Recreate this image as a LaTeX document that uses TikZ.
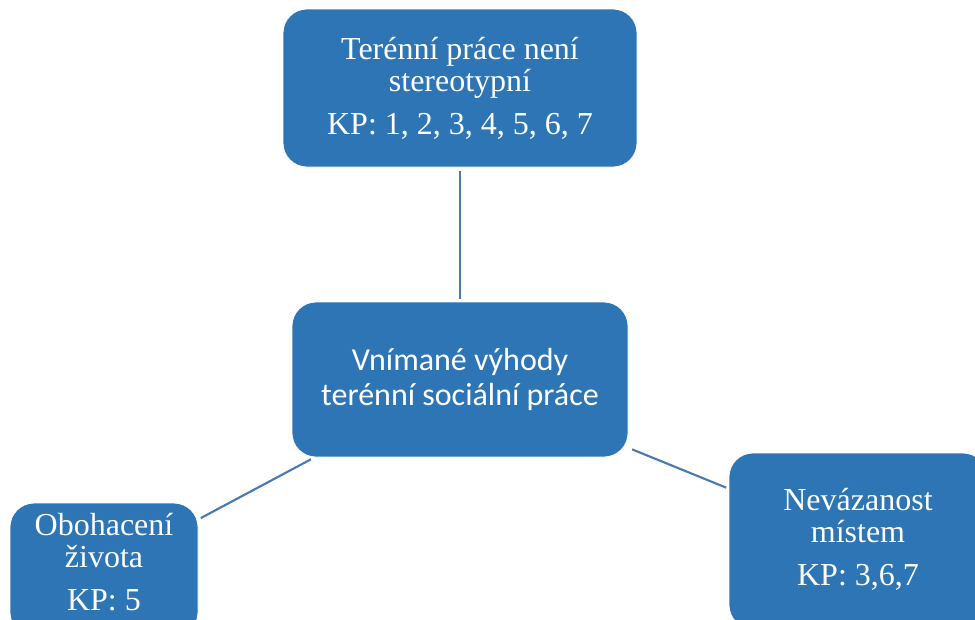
\documentclass[tikz,border=0pt]{standalone}
\usepackage{fontspec}
\newfontfamily\boxserif{Liberation Serif}
\newfontfamily\boxsans{Carlito}
\usepackage{tikz}
\usetikzlibrary{positioning}
\usepackage{xcolor}
\definecolor{boxblue}{HTML}{2E75B6}
\definecolor{linkblue}{HTML}{4A7AB0}

\begin{document}
\begin{tikzpicture}[x=0.75pt, y=-0.75pt,
  box/.style={fill=boxblue, draw=white, line width=0.6pt, rounded corners=18pt,
    text=white, align=center, inner sep=0pt},
  serifbox/.style={box, font=\boxserif\fontsize{24}{24}\selectfont},
  sansbox/.style={box, font=\boxsans\fontsize{24}{26.5}\selectfont},
  link/.style={linkblue, line width=1.6pt, shorten <=3pt, shorten >=2pt}]
\useasboundingbox (0,0) rectangle (975,619);
\clip (0,0) rectangle (975,619);
% middle
\node[sansbox, minimum width=252pt, minimum height=116.25pt] (vyhody) at (460,379.5)
  {Vnímané výhody\\terénní sociální práce};
% outer boxes
\node[serifbox, minimum width=265.5pt, minimum height=118.5pt] (stereo) at (460,88)
  {Terénní práce není\\stereotypní\\[8pt]KP: 1, 2, 3, 4, 5, 6, 7};
\node[serifbox, minimum width=141pt, minimum height=100pt] (zivot) at (104,569.7)
  {Obohacení\\života\\[8pt]KP: 5\rule[-12pt]{0pt}{0pt}};
\node[serifbox, minimum width=193.5pt, minimum height=132pt] (misto) at (858,541)
  {Nevázanost\\místem\\[8pt]KP: 3,6,7\rule[-6pt]{0pt}{0pt}};
% links
\draw[link] (stereo) -- (vyhody);
\draw[link] (vyhody) -- (zivot);
\draw[link] (vyhody) -- (misto);
\end{tikzpicture}
\end{document}
